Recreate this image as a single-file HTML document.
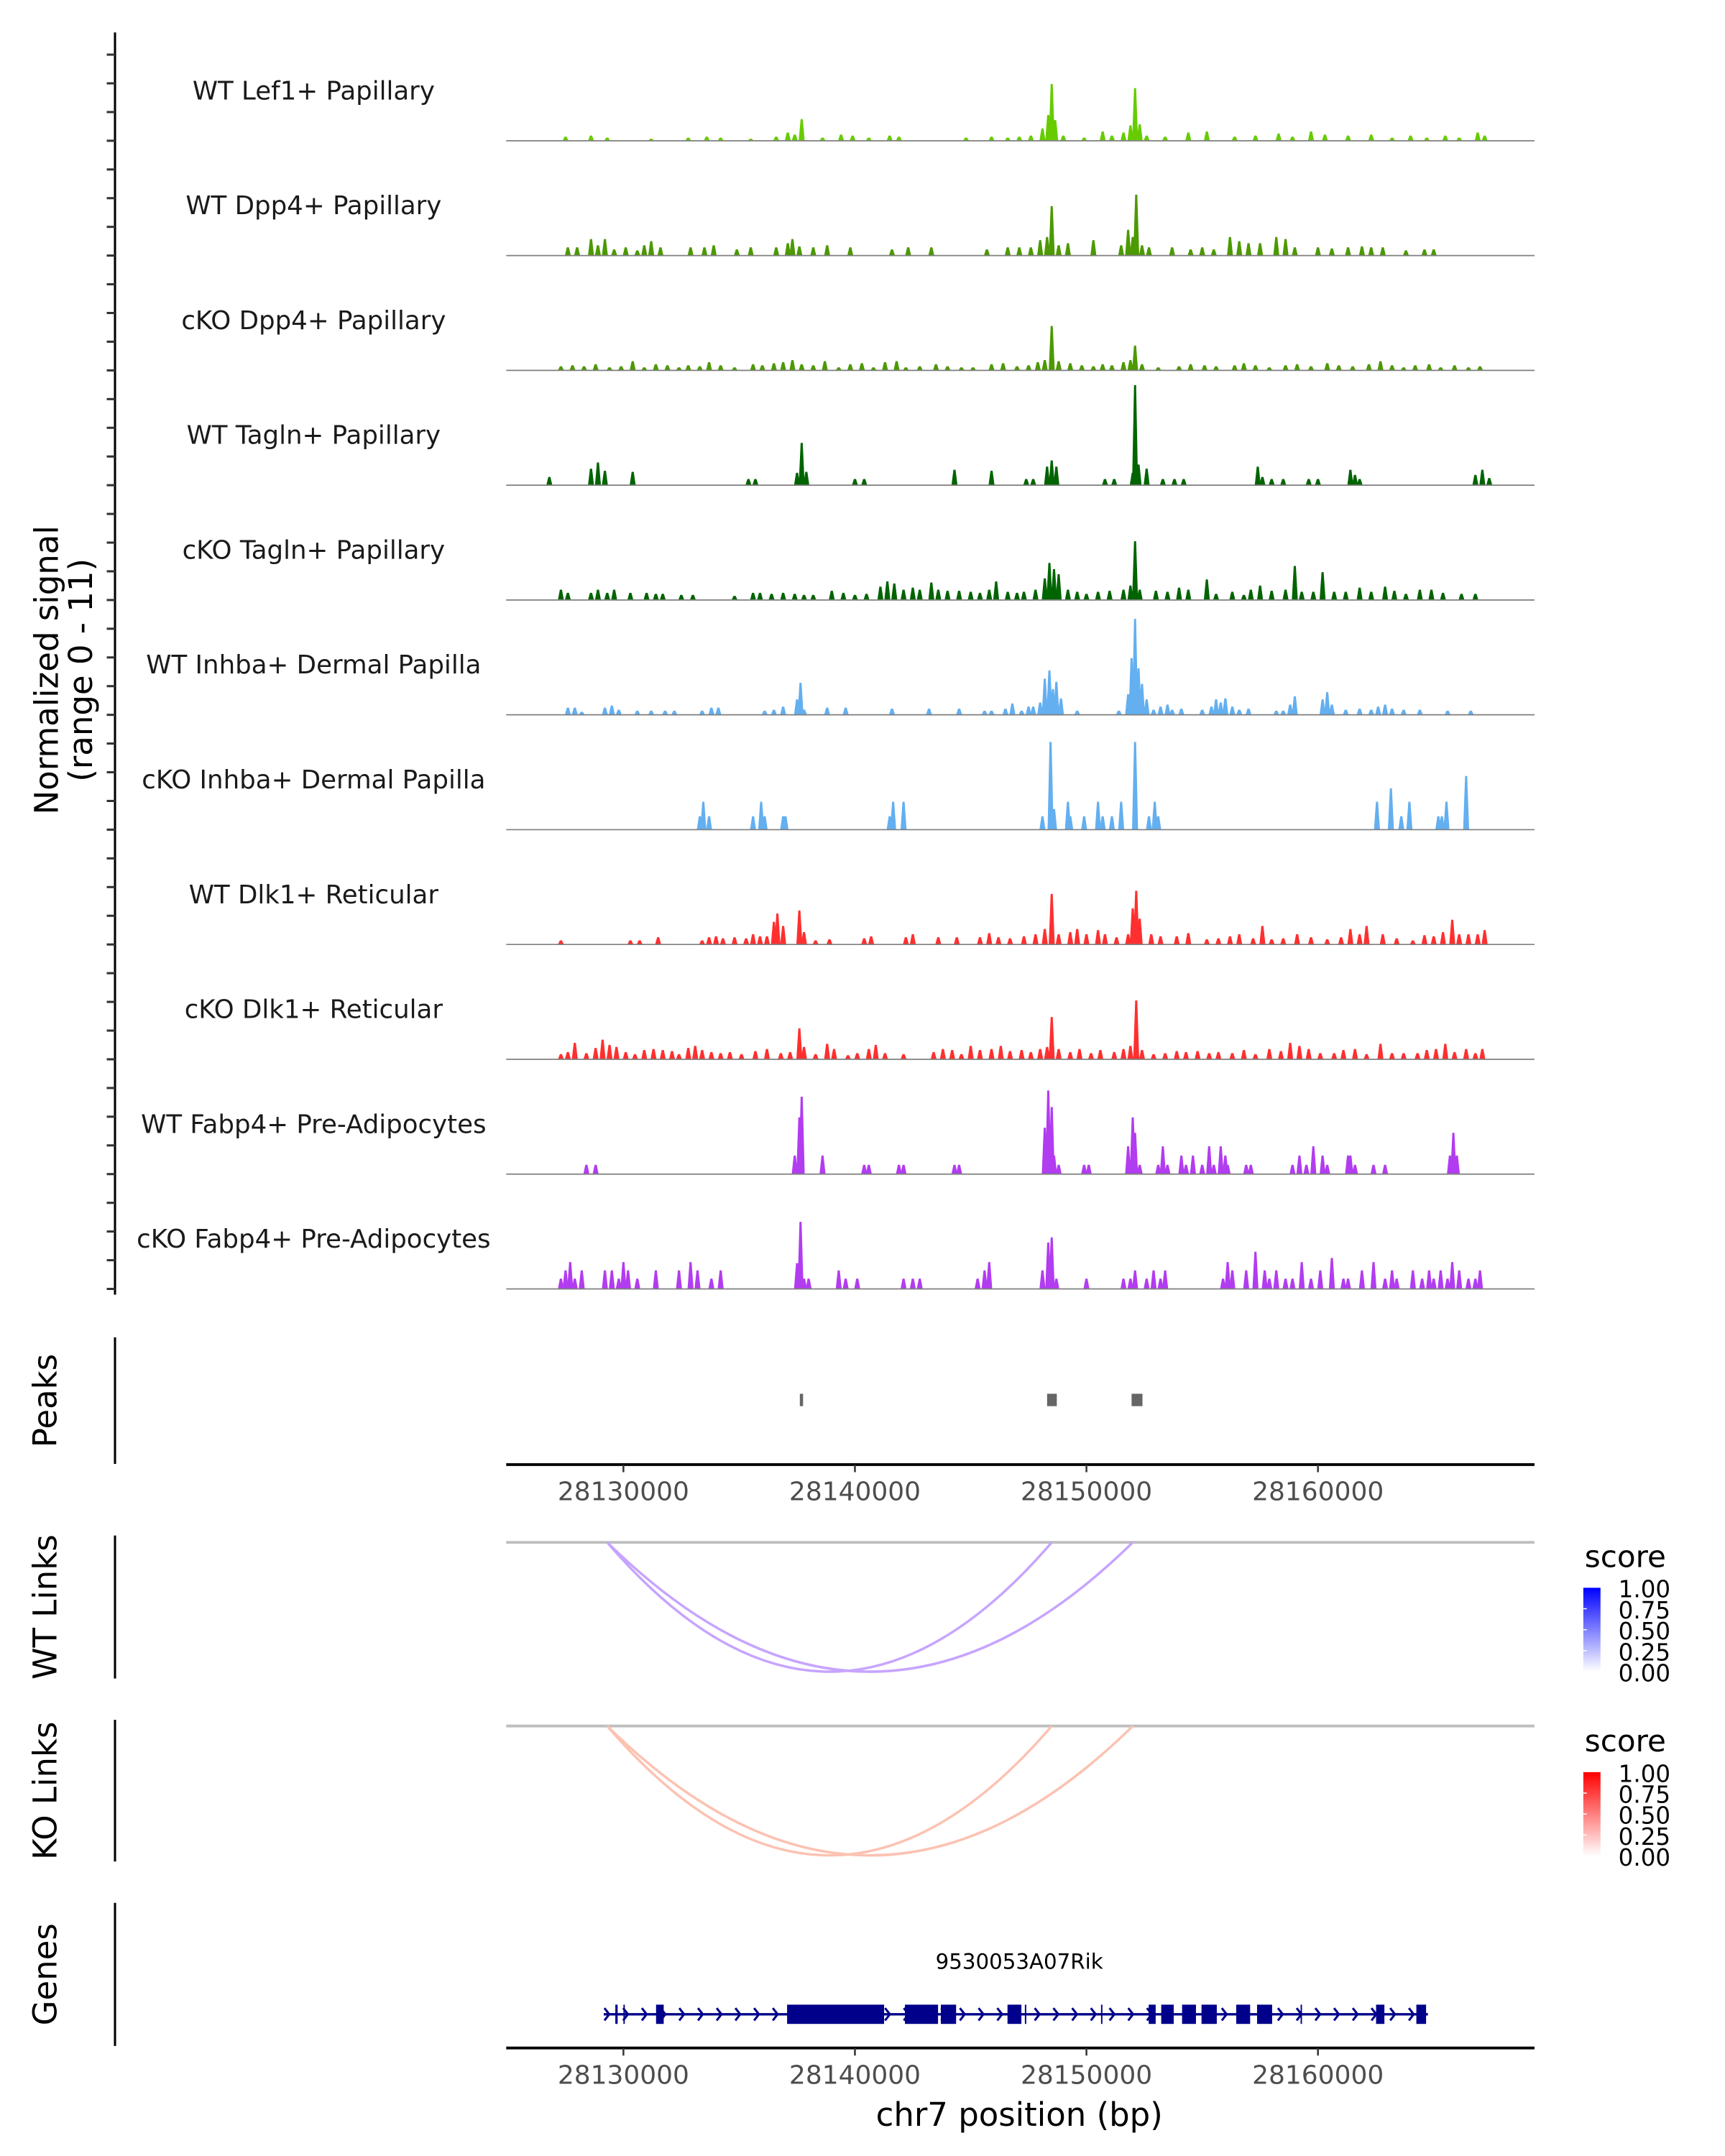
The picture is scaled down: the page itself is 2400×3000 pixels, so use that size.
<!DOCTYPE html>
<html><head><meta charset="utf-8">
<style>
html,body{margin:0;padding:0;background:#fff;}
svg{display:block;}
text{font-family:"DejaVu Sans","Liberation Sans",sans-serif;}
</style></head>
<body>
<svg id="chart" width="2400" height="3000" viewBox="0 0 1254 1567" preserveAspectRatio="none" xmlns="http://www.w3.org/2000/svg">
<defs>
<linearGradient id="gblue" x1="0" y1="1" x2="0" y2="0"><stop offset="0" stop-color="#ffffff"/><stop offset="1" stop-color="#0000ff"/></linearGradient>
<linearGradient id="gred" x1="0" y1="1" x2="0" y2="0"><stop offset="0" stop-color="#ffffff"/><stop offset="1" stop-color="#ff0000"/></linearGradient>
</defs>
<g id="tracks"></g>
<g id="peaks"></g>
<g id="links"></g>
<g id="genes"></g>
<g id="axes"></g>
</svg>
<script>
const NS='http://www.w3.org/2000/svg';
// ---------- DATA ----------
const trackNames=["WT Lef1+ Papillary","WT Dpp4+ Papillary","cKO Dpp4+ Papillary","WT Tagln+ Papillary","cKO Tagln+ Papillary","WT Inhba+ Dermal Papilla","cKO Inhba+ Dermal Papilla","WT Dlk1+ Reticular","cKO Dlk1+ Reticular","WT Fabp4+ Pre-Adipocytes","cKO Fabp4+ Pre-Adipocytes"];
const trackColors=["#66cc00","#4c9900","#4c9900","#006400","#006400","#63aff0","#63aff0","#ff2f2f","#ff2f2f","#b23cf0","#b23cf0"];
// signal values: [position (kb past 28,000,000), normalized signal]
const sigLef1=[[127.5,.4],[128.6,.5],[129.3,.3],[131.2,.2],[132.8,.3],[133.6,.4],[134.2,.3],[135.5,.2],[136.6,.4],[137.1,.8],[137.4,.6],[137.7,2.1],[138.6,.3],[139.4,.6],[139.9,.5],[140.6,.3],[141.5,.5],[141.9,.4],[144.8,.3],[145.9,.4],[146.6,.3],[147.1,.4],[147.6,.5],[148.1,1.2],[148.35,2.5],[148.5,5.5],[148.65,2.0],[149.0,.5],[149.9,.3],[150.7,.9],[151.1,.5],[151.6,.8],[151.9,1.5],[152.1,5.1],[152.3,1.6],[152.6,.5],[153.4,.4],[154.4,.8],[155.2,.9],[156.4,.4],[157.3,.5],[158.3,.7],[158.9,.4],[159.7,.9],[160.3,.6],[161.3,.5],[162.3,.6],[163.2,.3],[164.0,.5],[164.7,.3],[165.5,.5],[166.1,.3],[166.9,.8],[167.2,.5]];
const sigWtDpp4=[[127.6,.8],[128.0,.8],[128.6,1.6],[128.9,1.0],[129.2,1.6],[129.6,.6],[130.1,.8],[130.6,.5],[130.9,1.0],[131.2,1.4],[131.6,.8],[132.9,.8],[133.5,.8],[133.9,1.0],[134.9,.6],[135.5,.8],[136.6,.8],[137.1,1.2],[137.3,1.6],[137.6,.9],[138.2,.8],[138.8,1.0],[139.8,.8],[141.6,.6],[142.3,.8],[143.3,.8],[145.7,.6],[146.6,.8],[147.1,.8],[147.6,.8],[148.0,1.5],[148.3,1.8],[148.5,4.8],[148.8,1.0],[149.2,1.2],[150.3,1.5],[151.5,1.0],[151.8,2.5],[152.0,1.8],[152.15,5.9],[152.4,1.0],[152.7,.8],[153.7,.8],[154.5,.6],[155.0,.8],[155.5,.6],[156.2,1.8],[156.6,1.4],[157.0,1.2],[157.5,1.2],[158.2,1.8],[158.6,1.6],[159.0,.8],[160.0,.8],[160.6,.7],[161.3,.8],[161.9,.9],[162.3,.8],[162.8,.8],[163.8,.5],[164.6,.6],[165.0,.6]];
const sigKoDpp4=[[127.3,.4],[127.8,.5],[128.3,.4],[128.8,.6],[129.4,.3],[129.9,.4],[130.4,.9],[130.9,.3],[131.4,.6],[131.9,.5],[132.4,.3],[132.8,.5],[133.3,.4],[133.7,.8],[134.2,.5],[134.8,.3],[135.6,.6],[136.0,.5],[136.5,.7],[136.9,.8],[137.3,1.0],[137.7,.6],[138.2,.5],[138.7,.9],[139.3,.3],[139.8,.6],[140.3,.7],[140.8,.3],[141.3,.8],[141.8,.9],[142.2,.3],[142.8,.4],[143.5,.6],[144.0,.4],[144.6,.3],[145.1,.3],[145.9,.6],[146.4,.7],[147.0,.4],[147.5,.5],[147.9,.8],[148.2,1.0],[148.5,4.3],[148.8,.9],[149.3,.7],[149.8,.5],[150.3,.4],[150.7,.6],[151.1,.5],[151.6,.8],[151.9,1.0],[152.1,2.4],[152.4,.6],[153.1,.3],[154.0,.4],[154.5,.6],[155.1,.5],[155.6,.4],[156.4,.5],[156.8,.7],[157.3,.5],[157.9,.3],[158.6,.5],[159.1,.6],[159.7,.4],[160.4,.7],[160.9,.5],[161.5,.4],[162.2,.6],[162.7,.9],[163.2,.5],[163.7,.3],[164.2,.5],[164.8,.6],[165.3,.3],[165.9,.5],[166.5,.3],[167.0,.4]];
const sigWtTagln=[[126.8,.8],[128.6,1.6],[128.9,2.2],[129.2,1.4],[130.4,1.3],[135.4,.6],[135.7,.6],[137.5,1.2],[137.7,4.1],[137.9,1.3],[140.0,.6],[140.4,.6],[144.3,1.5],[145.9,1.4],[147.4,.6],[147.7,.6],[148.3,1.8],[148.5,2.4],[148.7,1.8],[150.8,.6],[151.2,.6],[152.0,1.2],[152.1,9.7],[152.25,2.0],[152.6,1.6],[153.3,.6],[153.8,.6],[154.2,.6],[157.4,1.8],[157.6,.8],[158.0,.6],[158.5,.6],[159.6,.6],[160.0,.6],[161.4,1.5],[161.6,1.0],[161.8,.6],[166.8,1.0],[167.1,1.5],[167.4,.7]];
const sigKoTagln=[[127.3,1.0],[127.6,.7],[128.6,.7],[128.9,1.0],[129.3,.7],[129.6,1.0],[130.3,.7],[131.0,.7],[131.4,.6],[131.7,.6],[132.5,.5],[133.0,.5],[134.8,.4],[135.6,.7],[135.9,.7],[136.4,.6],[136.9,.7],[137.4,.6],[137.8,.5],[138.2,.5],[139.0,.9],[139.5,.7],[140.0,.5],[140.5,.6],[141.1,1.3],[141.4,1.8],[141.7,1.6],[142.1,1.0],[142.5,1.2],[142.8,1.0],[143.3,1.7],[143.6,1.0],[144.0,.9],[144.5,.9],[145.0,.8],[145.4,.7],[145.8,1.0],[146.1,1.8],[146.6,.8],[147.0,.7],[147.3,.8],[147.8,1.0],[148.2,2.1],[148.4,3.6],[148.6,3.0],[148.8,2.5],[149.2,1.0],[149.6,.8],[150.0,.6],[150.5,.8],[151.0,.9],[151.6,1.0],[151.9,1.4],[152.1,5.7],[152.3,1.0],[153.0,.9],[153.5,.8],[154.0,1.2],[154.4,1.0],[155.2,2.0],[155.6,.6],[156.3,.8],[156.8,.5],[157.1,1.0],[157.5,1.4],[158.0,.9],[158.6,1.0],[159.0,3.3],[159.3,.8],[159.8,.8],[160.2,2.7],[160.7,.8],[161.2,.8],[161.8,1.2],[162.3,.8],[162.9,1.3],[163.3,.9],[163.8,.6],[164.4,1.0],[164.9,1.0],[165.4,.7],[166.2,.6],[166.8,.6]];
const sigWtInhba=[[127.6,.7],[127.9,.7],[128.2,.3],[129.2,.7],[129.5,.9],[129.8,.5],[130.6,.4],[131.2,.4],[131.8,.4],[132.2,.4],[133.4,.4],[133.8,.7],[134.1,.7],[136.1,.4],[136.5,.5],[136.9,.8],[137.5,1.5],[137.65,3.1],[137.8,.5],[138.8,.7],[139.6,.7],[141.6,.6],[143.2,.6],[144.5,.6],[145.6,.4],[145.9,.4],[146.5,.6],[146.8,1.1],[147.2,.4],[147.5,.8],[147.7,.8],[148.0,1.2],[148.2,3.5],[148.4,4.3],[148.55,2.5],[148.7,3.2],[148.9,1.6],[149.6,.4],[151.4,.4],[151.8,2.0],[151.95,5.5],[152.1,9.3],[152.25,4.5],[152.4,3.0],[152.6,1.5],[152.9,.5],[153.2,.8],[153.5,1.0],[153.7,.5],[154.1,.6],[155.0,.5],[155.4,.8],[155.6,1.5],[155.8,1.2],[156.0,1.6],[156.3,.8],[156.6,.5],[157.0,.6],[158.2,.4],[158.5,.4],[158.8,1.0],[159.0,1.8],[160.2,1.5],[160.4,2.2],[160.6,1.0],[161.2,.5],[161.8,.6],[162.3,.5],[162.6,.8],[162.9,1.0],[163.2,.6],[163.7,.5],[164.4,.5],[165.6,.4],[166.6,.4]];
const sigKoInhba=[[133.3,1.3],[133.45,2.7],[133.7,1.3],[135.6,1.3],[135.95,2.7],[136.1,1.3],[136.9,1.3],[137.0,1.3],[141.5,1.3],[141.65,2.7],[142.1,2.7],[148.1,1.3],[148.45,8.5],[148.6,2.0],[149.2,2.7],[149.3,1.3],[149.9,1.3],[150.5,2.7],[150.7,1.3],[151.1,1.3],[151.5,2.7],[152.1,8.5],[152.7,1.3],[152.95,2.7],[153.1,1.3],[162.55,2.7],[163.15,4.0],[163.6,1.3],[163.95,2.7],[165.2,1.3],[165.35,1.3],[165.55,2.7],[166.4,5.2]];
const sigWtDlk1=[[127.3,.4],[130.3,.4],[130.7,.4],[131.5,.7],[133.4,.4],[133.7,.7],[134.0,.8],[134.3,.6],[134.8,.7],[135.3,.6],[135.6,1.0],[135.9,.8],[136.2,.8],[136.5,2.2],[136.65,3.0],[136.9,1.8],[137.6,3.3],[137.8,1.2],[138.3,.4],[138.9,.5],[140.4,.6],[140.7,.8],[142.2,.7],[142.5,1.0],[143.6,.7],[144.4,.7],[145.4,.7],[145.8,1.1],[146.2,.7],[146.7,.6],[147.3,.8],[147.8,1.0],[148.2,1.5],[148.5,4.9],[148.8,1.0],[149.3,1.2],[149.6,1.5],[150.0,1.0],[150.5,1.4],[150.8,1.0],[151.3,.7],[151.8,1.0],[152.0,3.5],[152.15,5.2],[152.3,2.5],[152.8,1.0],[153.2,.8],[153.9,.8],[154.4,1.1],[155.2,.5],[155.7,.6],[156.2,.8],[156.6,1.0],[157.2,.6],[157.6,1.8],[158.0,.5],[158.5,.6],[159.1,1.0],[159.7,.7],[160.4,.5],[161.0,.7],[161.4,1.5],[161.8,1.0],[162.1,1.8],[162.8,1.0],[163.4,.6],[164.1,.4],[164.6,.9],[165.0,.8],[165.4,1.2],[165.8,2.4],[166.1,1.0],[166.5,1.0],[166.9,1.0],[167.2,1.4]];
const sigKoDlk1=[[127.3,.5],[127.6,.7],[127.9,1.6],[128.4,.6],[128.8,1.1],[129.1,1.9],[129.4,1.4],[129.7,1.2],[130.1,.7],[130.5,.5],[130.9,.9],[131.3,1.0],[131.7,.9],[132.1,.8],[132.4,.5],[132.8,1.1],[133.1,1.3],[133.4,.9],[133.8,.7],[134.2,.6],[134.6,.7],[135.1,.5],[135.7,.8],[136.2,1.0],[136.8,.6],[137.2,.7],[137.6,3.0],[137.8,1.2],[138.3,.5],[138.8,1.5],[139.1,1.0],[139.7,.4],[140.1,.6],[140.6,1.0],[140.9,1.4],[141.3,.6],[142.1,.5],[143.4,.7],[143.8,1.0],[144.2,.9],[144.6,.5],[145.0,1.3],[145.4,.9],[145.9,1.0],[146.3,1.3],[146.7,.8],[147.2,.9],[147.6,.7],[148.0,1.0],[148.3,1.2],[148.5,4.1],[148.8,1.0],[149.3,.7],[149.7,1.0],[150.2,.6],[150.6,.9],[151.2,.7],[151.6,1.0],[151.9,1.3],[152.15,5.7],[152.4,.9],[152.9,.5],[153.4,.6],[153.9,.8],[154.3,.7],[154.8,.8],[155.3,.6],[155.7,.7],[156.3,.6],[156.8,.9],[157.3,.5],[157.9,1.0],[158.4,.8],[158.8,1.6],[159.2,1.3],[159.6,1.0],[160.1,.6],[160.7,.6],[161.1,.9],[161.6,1.0],[162.1,.5],[162.7,1.5],[163.2,.6],[163.7,.6],[164.3,.6],[164.7,.9],[165.1,1.0],[165.5,1.5],[165.9,.7],[166.4,1.0],[166.8,.6],[167.1,1.0]];
const sigWtFabp4=[[128.4,.9],[128.8,.9],[137.4,1.8],[137.6,5.5],[137.7,7.5],[138.6,1.8],[140.4,.9],[140.6,.9],[141.9,.9],[142.1,.9],[144.3,.9],[144.5,.9],[148.2,4.5],[148.35,8.1],[148.5,6.5],[148.6,1.8],[148.8,.9],[149.9,.9],[150.1,.9],[151.8,2.7],[152.0,5.5],[152.1,4.0],[152.3,.9],[153.1,.9],[153.3,2.7],[153.5,.9],[154.1,1.8],[154.3,.9],[154.6,1.8],[155.0,.9],[155.3,2.7],[155.5,.9],[155.8,2.7],[156.0,1.8],[156.1,.9],[156.9,.9],[157.1,.9],[158.9,.9],[159.2,1.8],[159.5,.9],[159.8,2.7],[160.2,1.8],[160.4,.9],[161.3,1.8],[161.4,1.8],[161.6,.9],[162.4,.9],[162.9,.9],[165.7,1.8],[165.85,4.0],[166.0,1.8]];
const sigKoFabp4=[[127.3,1.0],[127.5,1.8],[127.7,2.6],[127.9,1.0],[128.2,1.8],[129.2,1.8],[129.5,1.8],[129.8,1.0],[130.0,2.6],[130.2,1.8],[130.6,1.0],[131.4,1.8],[132.4,1.8],[132.9,2.6],[133.2,1.8],[133.8,1.0],[134.2,1.8],[137.5,2.5],[137.65,6.5],[137.8,1.0],[138.0,1.0],[139.3,1.8],[139.6,1.0],[140.1,1.0],[142.1,1.0],[142.5,1.0],[142.8,1.0],[145.3,1.0],[145.6,1.8],[145.8,2.6],[148.1,1.8],[148.35,4.5],[148.5,5.0],[148.7,1.0],[150.0,1.0],[151.6,1.0],[151.9,1.0],[152.1,1.8],[152.6,1.0],[152.9,1.8],[153.2,1.0],[153.4,1.8],[155.9,1.0],[156.1,2.6],[156.3,1.8],[156.9,1.8],[157.3,3.6],[157.7,1.8],[157.9,1.0],[158.2,1.8],[158.6,1.0],[158.9,1.0],[159.3,2.6],[159.7,1.0],[160.1,1.8],[160.6,3.0],[161.1,1.0],[161.3,1.0],[161.9,1.8],[162.4,2.6],[162.9,1.0],[163.2,1.8],[163.4,1.0],[164.1,1.8],[164.5,1.0],[164.8,1.8],[165.0,1.0],[165.3,1.8],[165.6,1.0],[165.8,2.6],[166.1,1.8],[166.5,1.0],[166.8,1.0],[167.0,1.8]];
const signals=[sigLef1,sigWtDpp4,sigKoDpp4,sigWtTagln,sigKoTagln,sigWtInhba,sigKoInhba,sigWtDlk1,sigKoDlk1,sigWtFabp4,sigKoFabp4];
const peakRegions=[[137.62,137.76],[148.3,148.72],[151.95,152.42]];
const wtLinks=[[129.3,148.5,0.35],[129.3,152.0,0.35]];
const koLinks=[[129.3,148.5,0.25],[129.3,152.0,0.25]];
const geneSpan=[129.15,164.75];
const exons=[[129.65,129.75],[130.0,130.06],[131.41,131.74],[137.07,141.26],[142.16,143.59],[143.71,144.37],[146.59,147.19],[147.34,147.4],[150.63,150.69],[152.69,152.99],[153.23,153.77],[154.13,154.73],[154.97,155.63],[156.47,157.07],[157.37,158.02],[159.25,159.31],[162.51,162.87],[164.25,164.67]];
const xTicks=[130,140,150,160];
const xTickLabels=["28130000","28140000","28150000","28160000"];
const legendTicks=["1.00","0.75","0.50","0.25","0.00"];

// ---------- SCALES ----------
const X0=368, X1=1115.5;
function xs(kb){return 453.2+(kb-130)*16.83;}
const TRACK_TOP=102.3, TRACK_STEP=83.45, VPX=7.5;
function ys(base,v){return base-v*VPX;}
function el(tag,attrs,parent,txt){const e=document.createElementNS(NS,tag);for(const k in attrs)e.setAttribute(k,attrs[k]);if(txt!==undefined)e.textContent=txt;parent.appendChild(e);return e;}

const gT=document.getElementById('tracks');
signals.forEach((arr,i)=>{
  const base=TRACK_TOP+i*TRACK_STEP;
  const g=el('g',{},gT);
  
  
  const lab=el('text',{x:228,y:base-30,'text-anchor':'middle','font-size':18.6,fill:'#1a1a1a'},g,trackNames[i]);
  
  
  const hw=0.13;
  let d='';
  arr.forEach(([k,v])=>{
    const xa=xs(k-hw),xb=xs(k-hw*0.35),xc=xs(k+hw*0.35),xd=xs(k+hw),t=ys(base,v);
    d+='M'+xa.toFixed(2)+','+base+'L'+xb.toFixed(2)+','+t.toFixed(2)+'L'+xc.toFixed(2)+','+t.toFixed(2)+'L'+xd.toFixed(2)+','+base+'Z';
  });
  const p=el('path',{d:d,fill:trackColors[i]},g);
  
  
  const bl=el('line',{x1:X0,x2:X1,y1:base,y2:base,stroke:'#7f7f7f','stroke-width':0.9},g);
  
  
});

const gA=document.getElementById('axes');
const ya=el('line',{x1:83.6,x2:83.6,y1:23.6,y2:941,stroke:'#000','stroke-width':1.6},gA);


for(let i=0;i<11;i++){for(let j=0;j<4;j++){const y=TRACK_TOP+i*TRACK_STEP-j*20.86;
  const t=el('line',{x1:77.6,x2:83.6,y1:y,y2:y,stroke:'#333','stroke-width':1.6},gA);
  
  }}
const yt=el('text',{transform:'translate(42,487) rotate(-90)','text-anchor':'middle','font-size':23.5,fill:'#000'},gA);


el('tspan',{x:0,dy:0},yt,'Normalized signal');
el('tspan',{x:0,dy:25},yt,'(range 0 - 11)');

function sideLabel(txt,y1,y2,name){
  const l=el('line',{x1:83.6,x2:83.6,y1:y1,y2:y2,stroke:'#000','stroke-width':1.6},gA);
  
  
  const t=el('text',{transform:'translate(41,'+((y1+y2)/2)+') rotate(-90)','text-anchor':'middle','font-size':23.5,fill:'#000'},gA,txt);
  
  
}
sideLabel('Peaks',972,1064,'peaks');
sideLabel('WT Links',1116,1220,'wt-links');
sideLabel('KO Links',1250,1353,'ko-links');
sideLabel('Genes',1383,1487,'genes');

function xAxis(y,name){
  const l=el('line',{x1:X0,x2:X1,y1:y,y2:y,stroke:'#000','stroke-width':2},gA);
  
  
  xTicks.forEach((k,i)=>{
    const t=el('line',{x1:xs(k),x2:xs(k),y1:y,y2:y+5.5,stroke:'#333','stroke-width':1.3},gA);
    
    
    const tl=el('text',{x:xs(k),y:y+26,'text-anchor':'middle','font-size':18.8,fill:'#4d4d4d'},gA,xTickLabels[i]);
    
    
  });
}
xAxis(1064.5,'peaks-x-axis');
xAxis(1488.5,'x-axis');
const xt=el('text',{x:741,y:1545,'text-anchor':'middle','font-size':23.5,fill:'#000'},gA,'chr7 position (bp)');



const gP=document.getElementById('peaks');
peakRegions.forEach(([a,b])=>{
  const r=el('rect',{x:xs(a),y:1013,width:Math.max(1.2,xs(b)-xs(a)),height:9,fill:'#666'},gP);
  
  
});

const gL=document.getElementById('links');
function linkPanel(links,y0,depth,color,grad,legY,name){
  const bl=el('line',{x1:X0,x2:X1,y1:y0,y2:y0,stroke:'#bebebe','stroke-width':2},gL);
  
  
  links.forEach(([a,b])=>{
    const xa=xs(a),xb=xs(b),c=y0+depth*2;
    const p=el('path',{d:'M'+xa+','+y0+'Q'+((xa+xb)/2)+','+c+' '+xb+','+y0,fill:'none',stroke:color,'stroke-width':1.8},gL);
    
    
  });
  const st=el('text',{x:1152,y:legY,'font-size':22,fill:'#000'},gL,'score');
  
  
  const r=el('rect',{x:1151,y:legY+15,width:12.5,height:61,fill:'url(#'+grad+')'},gL);
  
  
  legendTicks.forEach((t,i)=>{
    const yy=legY+15+i*15.25;
    if(i>0&&i<4){const tk=el('line',{x1:1151,x2:1153.5,y1:yy,y2:yy,stroke:'#fff','stroke-width':0.8},gL);}
    const tx=el('text',{x:1176.5,y:yy+7,'font-size':17,fill:'#000'},gL,t);
    
    
  });
}
linkPanel(wtLinks,1121,94,'#c7a4ff','gblue',1139,'wt-links');
linkPanel(koLinks,1254.5,94,'#fcc2b2','gred',1273,'ko-links');

const gG=document.getElementById('genes');
const gn=el('text',{x:741,y:1431,'text-anchor':'middle','font-size':15.3,fill:'#000'},gG,'9530053A07Rik');


const gl=el('line',{x1:xs(geneSpan[0]),x2:xs(geneSpan[1]),y1:1464,y2:1464,stroke:'#00008b','stroke-width':1.8},gG);


let cd='';
for(let x=xs(geneSpan[0])+3;x<xs(geneSpan[1]);x+=13.6){cd+='M'+(x-2.5)+',1459.5L'+(x+1)+',1464L'+(x-2.5)+',1468.5';}
const ch=el('path',{d:cd,fill:'none',stroke:'#00008b','stroke-width':1.6},gG);


exons.forEach(([a,b])=>{
  const r=el('rect',{x:xs(a),y:1457,width:Math.max(1,xs(b)-xs(a)),height:14,fill:'#00008b'},gG);
  
  
});
</script>
</body></html>
